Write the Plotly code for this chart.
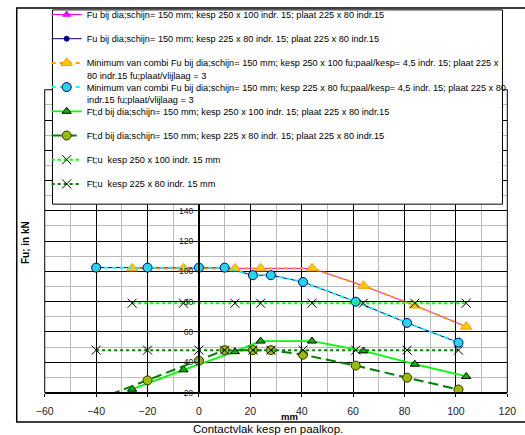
import plotly.graph_objects as go

# Positions along the contact surface (mm) for the two kesp sizes
x_kesp_250 = [-26, -6, 14, 24, 44, 64, 84, 104]
x_kesp_225 = [-40, -20, 0, 10, 21, 28, 40.5, 61, 81, 101]

# Fu and Ft values (kN)
fu_250 = [102, 102, 102, 102, 102, 90.5, 77.5, 63.5]
fu_225 = [102.5, 102.5, 102.5, 102.5, 97.5, 97.5, 93, 80, 66, 53]
min_250 = [102, 102, 102, 102, 102, 90.5, 77.5, 63.5]
min_225 = [102.5, 102.5, 102.5, 102.5, 97.5, 97.5, 93, 80, 66, 53]
ftd_250 = [22.2, 35, 47, 54, 54, 47.5, 38.7, 30.6]
ftd_225 = [15, 28, 41, 48, 48, 48, 45, 37.8, 29.8, 22]
ftu_250 = [79, 79, 79, 79, 79, 79, 79, 79]
ftu_225 = [48, 48, 48, 48, 48, 48, 48, 48, 48, 48]

# y tick labels; the upper ones sit behind the legend box
y_ticks = [20, 40, 60, 80, 100, 120, 140, 160, 180, 200, 220]
y_tick_text = ["20", "40", "60", "80", "100", "120", "140", "", "", "", ""]

# legend labels; the two long ones continue on a second line
names = [
    "Fu bij dia;schijn= 150 mm; kesp 250 x 100 indr. 15; plaat 225 x 80 indr.15",
    "Fu bij dia;schijn= 150 mm; kesp 225 x 80 indr. 15; plaat 225 x 80 indr.15",
    "Minimum van combi Fu bij dia;schijn= 150 mm; kesp 250 x 100 fu;paal/kesp= 4,5 indr. 15; plaat 225 x",
    "Minimum van combi Fu bij dia;schijn= 150 mm; kesp 225 x 80 fu;paal/kesp= 4,5 indr. 15; plaat 225 x 80",
    "Ft;d bij dia;schijn= 150 mm; kesp 250 x 100 indr. 15; plaat 225 x 80 indr.15",
    "Ft;d bij dia;schijn= 150 mm; kesp 225 x 80 indr. 15; plaat 225 x 80 indr.15",
    "Ft;u \u00a0kesp 250 x 100 indr. 15 mm",
    "Ft;u \u00a0kesp 225 x 80 indr. 15 mm",
]
continuations = {
    2: "80 indr.15 fu;plaat/vlijlaag = 3",
    3: "indr.15 fu;plaat/vlijlaag = 3",
}

W, H = 525, 435
FONT = "Liberation Sans, Arial, sans-serif"
LEG_SIZE = 9.2
ROW0, ROW_STEP, LINE_STEP = 15.7, 24.2, 12.3   # legend rows, px from top
TEXT_X = 79                                     # continuation text anchor, px

fig = go.Figure()

series = [
    (x_kesp_250, fu_250, dict(color="#FF00FF", width=1), dict(symbol="triangle-up", size=7, color="#FF00FF", line=dict(color="#FF00FF", width=1))),
    (x_kesp_225, fu_225, dict(color="#000080", width=1), dict(symbol="circle", size=5, color="#000080", line=dict(color="#000080", width=1))),
    (x_kesp_250, min_250, dict(color="#FF9900", width=2, dash="4px,4px"), dict(symbol="triangle-up", size=10, color="#FFCC00", line=dict(color="#FF9900", width=1))),
    (x_kesp_225, min_225, dict(color="#00FFFF", width=2, dash="4px,4px"), dict(symbol="circle", size=9, color="#22D8E8", line=dict(color="#000080", width=1))),
    (x_kesp_250, ftd_250, dict(color="#00FF00", width=1.8), dict(symbol="triangle-up", size=8, color="#10B010", line=dict(color="#000000", width=1))),
    (x_kesp_225, ftd_225, dict(color="#008000", width=2, dash="10px,5px"), dict(symbol="circle", size=9, color="#99BB00", line=dict(color="#333300", width=1))),
    (x_kesp_250, ftu_250, dict(color="#00FF00", width=2, dash="3px,3px"), dict(symbol="x-thin", size=9, color="#000000", line=dict(color="#000000", width=1))),
    (x_kesp_225, ftu_225, dict(color="#008000", width=2, dash="3px,3px"), dict(symbol="x-thin", size=9, color="#000000", line=dict(color="#000000", width=1))),
]

for i, ((xs, ys, ln, mk), nm) in enumerate(zip(series, names)):
    fig.add_trace(go.Scatter(x=xs, y=ys, mode="lines+markers", name=nm,
                             legendgroup=f"g{i}", line=ln, marker=mk))

# plot area in pixels
px_l, px_r, px_t, px_b = 37, 516, 90, 397
xdom = [px_l / W, px_r / W]
ydom = [1 - px_b / H, 1 - px_t / H]
x_range = [-60, 120]
y_pos = xdom[0] + (xdom[1] - xdom[0]) * (0 - x_range[0]) / (x_range[1] - x_range[0])

annotations = [
    dict(text="<b>Fu; in kN</b>", textangle=-90, xref="paper", yref="paper",
         x=17 / W, y=1 - 245 / H, xanchor="center", yanchor="middle", showarrow=False,
         font=dict(family=FONT, size=10, color="#000000")),
    dict(text="<b>mm</b>", xref="paper", yref="paper",
         x=290 / W, y=1 - 421 / H, xanchor="center", yanchor="middle", showarrow=False,
         font=dict(family=FONT, size=9.5, color="#000000")),
    dict(text="Contactvlak kesp en paalkop.", xref="paper", yref="paper",
         x=268 / W, y=1 - 434 / H, xanchor="center", yanchor="middle", showarrow=False,
         font=dict(family=FONT, size=11.5, color="#000000")),
]
for idx, txt in continuations.items():
    y_px = ROW0 + idx * ROW_STEP + LINE_STEP
    annotations.append(dict(text=txt, xref="paper", yref="paper",
                            x=TEXT_X / W, y=1 - y_px / H, xanchor="left", yanchor="middle",
                            showarrow=False,
                            font=dict(family=FONT, size=LEG_SIZE, color="#000000")))

fig.update_layout(
    width=W, height=H,
    margin=dict(l=0, r=0, t=0, b=0),
    paper_bgcolor="white", plot_bgcolor="white",
    font=dict(family=FONT, color="#000000"),
    showlegend=True,
    legend=dict(
        x=39 / W, y=1 + 1.2 / H, xanchor="left", yanchor="top",
        bgcolor="rgba(0,0,0,0)", borderwidth=0,
        font=dict(family=FONT, size=LEG_SIZE, color="#000000"),
        itemwidth=30, traceorder="grouped", tracegroupgap=ROW_STEP - 19,
    ),
    xaxis=dict(
        domain=xdom, range=x_range, dtick=20, tick0=0,
        showgrid=True, gridcolor="#000000", gridwidth=1,
        minor=dict(dtick=10, showgrid=True, gridcolor="#BBBBBB", gridwidth=1),
        zeroline=False, showline=True, linecolor="#000000", linewidth=1,
        ticks="outside", ticklen=3, tickcolor="#000000", ticklabelstandoff=6,
        tickfont=dict(family=FONT, size=10.5, color="#222222"),
    ),
    yaxis=dict(
        domain=ydom, range=[20, 220], tickmode="array",
        tickvals=y_ticks, ticktext=y_tick_text,
        anchor="free", position=y_pos,
        showgrid=True, gridcolor="#000000", gridwidth=1,
        minor=dict(dtick=10, showgrid=True, gridcolor="#BBBBBB", gridwidth=1),
        zeroline=False, showline=True, linecolor="#000000", linewidth=2,
        ticks="outside", ticklen=3, tickcolor="#000000",
        tickfont=dict(family=FONT, size=8.5, color="#222222"),
    ),
    shapes=[
        # plot-area frame
        dict(type="rect", xref="x domain", yref="y domain", x0=0, x1=1, y0=0, y1=1,
             line=dict(color="#000000", width=1)),
        # chart frame
        dict(type="rect", xref="paper", yref="paper", x0=8 / W, x1=1.02,
             y0=1 - 427 / H, y1=1 - 7 / H, line=dict(color="#000000", width=1.5)),
        # legend box
        dict(type="rect", xref="paper", yref="paper", layer="above",
             x0=45 / W, x1=511 / W, y0=1 - 206 / H, y1=1 - 9 / H,
             fillcolor="white", line=dict(color="#000000", width=1)),
    ],
    annotations=annotations,
)

fig.write_html("out.html")
